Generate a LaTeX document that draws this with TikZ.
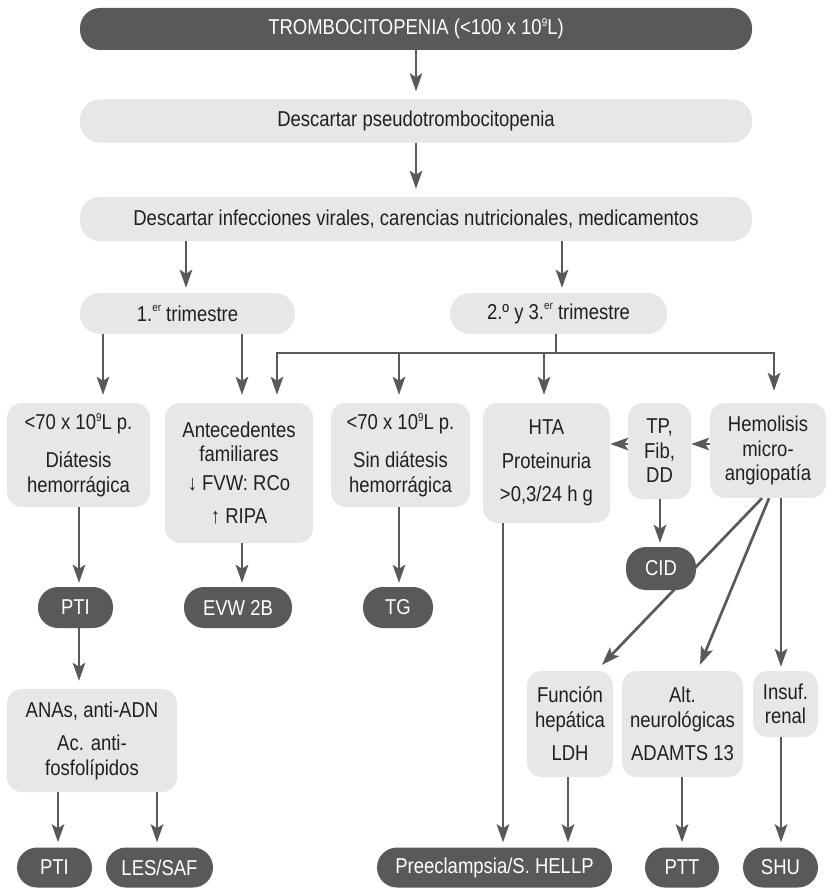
\documentclass[tikz,border=0pt]{standalone}
\usepackage{fontspec}
\setmainfont{Liberation Sans}[FakeStretch=0.86]
\usetikzlibrary{arrows.meta}
\definecolor{dk}{HTML}{58595B}
\definecolor{lt}{HTML}{E6E7E8}
\definecolor{tx}{HTML}{231F20}
\newcommand\supnum[1]{\raisebox{7.6pt}{\fontsize{11.5}{11.5}\selectfont #1}}
\newcommand\suplet[1]{\raisebox{9.2pt}{\fontsize{11.5}{11.5}\selectfont #1}}
\begin{document}
\begin{tikzpicture}[x=1pt,y=-1pt,
  every node/.style={font=\fontsize{21.5}{24.5}\selectfont, inner sep=0pt, align=center},
  dpill/.style={fill=dk, text=white, rounded corners=20pt},
  lpill/.style={fill=lt, text=tx, rounded corners=20pt},
  lbox/.style={fill=lt, text=tx, rounded corners=15pt},
  conn/.style={draw=dk, line width=2.7pt},
  arr/.style={conn, -{Stealth[length=18pt,width=12.5pt,inset=4pt]}, shorten >=6pt},
]
\useasboundingbox (0,0) rectangle (832,888);

% top rows
\node[dpill, minimum width=672pt, minimum height=42pt] (top) at (416,29) {TROMBOCITOPENIA (<100 x 10\supnum{9}L)};
\node[lpill, minimum width=672pt, minimum height=43pt] (pseudo) at (416,121) {Descartar pseudotrombocitopenia};
\node[lpill, minimum width=672pt, minimum height=44pt] (inf) at (416,219) {Descartar infecciones virales, carencias nutricionales, medicamentos};
\node[lpill, minimum width=215pt, minimum height=41pt] (t1) at (187.5,313.5) {1.\suplet{er} trimestre};
\node[lpill, minimum width=217pt, minimum height=41pt] (t2) at (558.5,313.5) {2.º y 3.\suplet{er} trimestre};

% second level boxes
\node[lbox, minimum width=143pt, minimum height=104pt] (A) at (78.5,455) {<70 x 10\supnum{9}L p.\\[14pt]Diátesis\\hemorrágica};
\node[lbox, minimum width=148pt, minimum height=140pt] (B) at (239,473) {Antecedentes\\familiares\\[4pt]↓ FVW: RCo\\[9pt]↑ RIPA};
\node[lbox, minimum width=139pt, minimum height=104pt] (C) at (400.5,455) {<70 x 10\supnum{9}L p.\\[14pt]Sin diátesis\\hemorrágica};
\node[lbox, minimum width=127pt, minimum height=120pt] (HTA) at (546.5,463) {HTA\\[9pt]Proteinuria\\[9pt]>0,3/24 h g};
\node[lbox, minimum width=63pt, minimum height=96pt] (TP) at (659.5,451) {TP,\\Fib,\\DD};
\node[lbox, minimum width=116pt, minimum height=95pt] (Hem) at (768,450.5) {Hemolisis\\micro-\\angiopatía};

% pills row
\node[dpill, minimum width=75pt, minimum height=41pt] (P1) at (75.5,607.5) {PTI};
\node[dpill, minimum width=108pt, minimum height=41pt] (EVW) at (238,607.5) {EVW 2B};
\node[dpill, minimum width=70pt, minimum height=41pt] (TG) at (398,607.5) {TG};

% lower boxes
\node[lbox, minimum width=170pt, minimum height=103pt] (ANA) at (92,740.5) {ANAs, anti-ADN\\[9pt]Ac. anti-\\fosfolípidos};
\node[lbox, minimum width=86pt, minimum height=106pt] (Fun) at (570,724) {Función\\hepática\\[9pt]LDH};
\node[lbox, minimum width=121pt, minimum height=106pt] (Alt) at (682.5,724) {Alt.\\neurológicas\\[9pt]ADAMTS 13};
\node[lbox, minimum width=65pt, minimum height=66pt] (Ins) at (785.5,704) {Insuf.\\renal};

% bottom pills
\node[dpill, minimum width=75pt, minimum height=40pt] (P2) at (54.5,867.5) {PTI};
\node[dpill, minimum width=107pt, minimum height=40pt] (LES) at (159.5,867.5) {LES/SAF};
\node[dpill, minimum width=235pt, minimum height=40pt] (Pre) at (494.5,867.5) {Preeclampsia/S. HELLP};
\node[dpill, minimum width=74pt, minimum height=40pt] (PTT) at (682,867.5) {PTT};
\node[dpill, minimum width=75pt, minimum height=40pt] (SHU) at (780.5,867.5) {SHU};

% connectors top
\draw[arr, shorten >=8pt] (top.south) -- (pseudo.north);
\draw[arr, shorten >=8pt] (pseudo.south) -- (inf.north);
\draw[arr, shorten >=5pt] ([xshift=-230pt]inf.south) -- ([xshift=-1.5pt]t1.north);
\draw[arr, shorten >=5pt] ([xshift=146pt]inf.south) -- ([xshift=3.5pt]t2.north);

% first trimester
\draw[arr, shorten >=8pt] ([xshift=-84.5pt]t1.south) -- ([xshift=24.5pt]A.north);
\draw[arr, shorten >=8pt] ([xshift=54.5pt]t1.south) -- ([xshift=3pt]B.north);

% second/third trimester bus
\coordinate (bus) at (556,353);
\coordinate (bL) at (277,353);
\coordinate (bC) at (399,353);
\coordinate (bH) at (544,353);
\coordinate (bR) at (774,353);
\draw[conn] ([xshift=-2.5pt]t2.south) -- (bus);
\draw[conn, line cap=rect] (bL) -- (bR);
\draw[arr, shorten >=8pt] (bL) -- ([xshift=38pt]B.north);
\draw[arr, shorten >=8pt] (bC) -- ([xshift=-1.5pt]C.north);
\draw[arr, shorten >=8pt] (bH) -- ([xshift=-2.5pt]HTA.north);
\draw[arr, shorten >=12pt] (bR) -- ([xshift=6pt]Hem.north);

% down to pills
\draw[arr, shorten >=4pt] ([xshift=0.5pt]A.south) -- ([xshift=3.5pt]P1.north);
\draw[arr, shorten >=4pt] ([xshift=3pt]B.south) -- ([xshift=4pt]EVW.north);
\draw[arr, shorten >=4pt] ([xshift=-1.5pt]C.south) -- ([xshift=1pt]TG.north);
\draw[arr, shorten >=8pt] ([xshift=3.5pt]P1.south) -- ([xshift=-13pt]ANA.north);
\draw[arr, shorten >=5pt] ([xshift=-34pt]ANA.south) -- ([xshift=3.5pt]P2.north);
\draw[arr, shorten >=5pt] ([xshift=65pt]ANA.south) -- ([xshift=-2.5pt]LES.north);

% horizontal arrowheads
\draw[arr, shorten >=0pt] ([yshift=7pt]TP.west) -- ([yshift=19pt]HTA.east);
\draw[arr, shorten >=0pt] ([yshift=6.5pt]Hem.west) -- ([yshift=7pt]TP.east);

% hemolisis branches (drawn under CID)
\draw[arr, shorten >=0pt] ([xshift=-6pt]Hem.south) -- ([xshift=32pt,yshift=6pt]Fun.north);
\draw[arr, shorten >=0pt] ([xshift=1pt]Hem.south) -- ([xshift=17.5pt,yshift=6pt]Alt.north);
\draw[arr, shorten >=4pt] ([xshift=13pt]Hem.south) -- ([xshift=-4.5pt]Ins.north);

\node[dpill, minimum width=70pt, minimum height=43pt] (CID) at (661,568.5) {CID};
\draw[arr, shorten >=4pt] ([xshift=0.5pt]TP.south) -- ([xshift=-1pt]CID.north);

% to bottom pills
\draw[arr, shorten >=5pt] ([xshift=-43.5pt]HTA.south) -- ([xshift=8.5pt]Pre.north);
\draw[arr, shorten >=5pt] ([xshift=-2pt]Fun.south) -- ([xshift=73.5pt]Pre.north);
\draw[arr, shorten >=5pt] ([xshift=-0.5pt]Alt.south) -- (PTT.north);
\draw[arr, shorten >=5pt] ([xshift=-4.5pt]Ins.south) -- ([xshift=0.5pt]SHU.north);
\end{tikzpicture}
\end{document}
